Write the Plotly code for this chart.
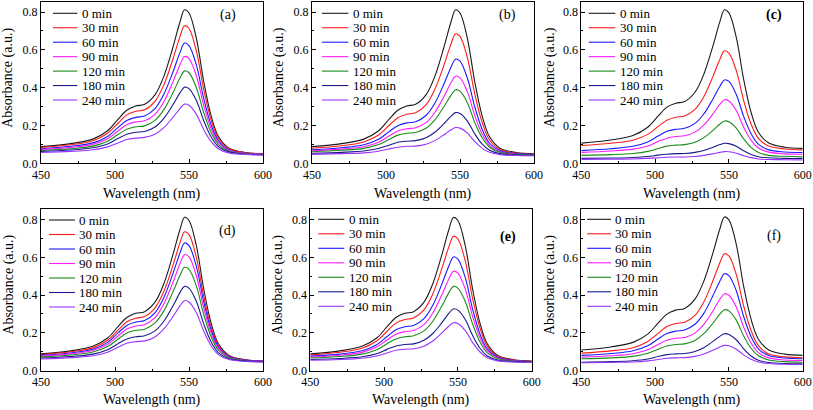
import plotly.graph_objects as go

# ---------------- data ----------------
WAVELENGTH = [450, 470, 485, 495, 502, 508, 514, 520, 527, 533, 539, 544, 547,
              550, 555, 560, 565, 570, 577, 588, 600]
TIMES = ["0 min", "30 min", "60 min", "90 min", "120 min", "180 min", "240 min"]
PANEL_LABELS = ["(a)", "(b)", "(c)", "(d)", "(e)", "(f)"]
X_TITLE = "Wavelength (nm)"
Y_TITLE = "Absorbance (a.u.)"
X_TICKS = [450, 500, 550, 600]
Y_TICKS = [0.0, 0.2, 0.4, 0.6, 0.8]

ABS_A = [
    [0.088, 0.104, 0.128, 0.172, 0.232, 0.281, 0.303, 0.312, 0.362, 0.460, 0.610, 0.750, 0.812, 0.795, 0.660, 0.430, 0.250, 0.140, 0.080, 0.057, 0.050],
    [0.084, 0.098, 0.119, 0.159, 0.212, 0.256, 0.275, 0.283, 0.328, 0.415, 0.548, 0.673, 0.728, 0.713, 0.593, 0.388, 0.228, 0.130, 0.077, 0.056, 0.050],
    [0.077, 0.090, 0.108, 0.142, 0.189, 0.226, 0.243, 0.250, 0.289, 0.365, 0.480, 0.588, 0.636, 0.623, 0.519, 0.341, 0.202, 0.118, 0.071, 0.053, 0.048],
    [0.073, 0.084, 0.100, 0.130, 0.171, 0.204, 0.219, 0.225, 0.259, 0.326, 0.428, 0.523, 0.565, 0.554, 0.462, 0.305, 0.183, 0.108, 0.067, 0.052, 0.047],
    [0.068, 0.077, 0.091, 0.117, 0.152, 0.180, 0.193, 0.198, 0.227, 0.284, 0.371, 0.453, 0.489, 0.479, 0.400, 0.267, 0.162, 0.098, 0.063, 0.050, 0.046],
    [0.063, 0.070, 0.082, 0.102, 0.131, 0.154, 0.164, 0.168, 0.192, 0.238, 0.308, 0.374, 0.403, 0.395, 0.332, 0.224, 0.139, 0.087, 0.059, 0.048, 0.045],
    [0.057, 0.063, 0.072, 0.087, 0.108, 0.126, 0.133, 0.137, 0.154, 0.189, 0.242, 0.291, 0.313, 0.307, 0.259, 0.178, 0.115, 0.076, 0.055, 0.047, 0.044],
]
ABS_B = [
    [0.088, 0.104, 0.128, 0.172, 0.232, 0.281, 0.303, 0.312, 0.362, 0.460, 0.610, 0.750, 0.812, 0.795, 0.660, 0.430, 0.250, 0.140, 0.080, 0.057, 0.050],
    [0.080, 0.093, 0.113, 0.150, 0.200, 0.241, 0.260, 0.267, 0.309, 0.391, 0.516, 0.633, 0.685, 0.671, 0.558, 0.366, 0.215, 0.123, 0.073, 0.054, 0.048],
    [0.071, 0.082, 0.098, 0.127, 0.167, 0.199, 0.214, 0.220, 0.253, 0.318, 0.417, 0.510, 0.551, 0.540, 0.450, 0.298, 0.179, 0.106, 0.066, 0.051, 0.046],
    [0.066, 0.075, 0.088, 0.112, 0.144, 0.171, 0.183, 0.188, 0.215, 0.269, 0.351, 0.427, 0.461, 0.452, 0.378, 0.253, 0.154, 0.094, 0.061, 0.049, 0.045],
    [0.061, 0.069, 0.079, 0.099, 0.126, 0.149, 0.159, 0.163, 0.185, 0.230, 0.298, 0.361, 0.389, 0.382, 0.320, 0.216, 0.135, 0.085, 0.058, 0.047, 0.044],
    [0.053, 0.058, 0.065, 0.078, 0.096, 0.111, 0.117, 0.120, 0.135, 0.164, 0.208, 0.250, 0.268, 0.263, 0.223, 0.155, 0.101, 0.069, 0.051, 0.044, 0.042],
    [0.047, 0.051, 0.055, 0.064, 0.076, 0.085, 0.090, 0.091, 0.101, 0.120, 0.150, 0.177, 0.189, 0.186, 0.160, 0.115, 0.079, 0.058, 0.046, 0.041, 0.040],
]
ABS_C = [
    [0.107, 0.123, 0.147, 0.191, 0.249, 0.297, 0.318, 0.327, 0.376, 0.471, 0.616, 0.752, 0.812, 0.796, 0.666, 0.444, 0.270, 0.164, 0.107, 0.085, 0.079],
    [0.094, 0.106, 0.122, 0.153, 0.194, 0.228, 0.244, 0.250, 0.285, 0.352, 0.456, 0.552, 0.595, 0.583, 0.490, 0.332, 0.208, 0.132, 0.091, 0.076, 0.071],
    [0.067, 0.077, 0.090, 0.113, 0.144, 0.169, 0.180, 0.185, 0.211, 0.261, 0.338, 0.409, 0.441, 0.433, 0.364, 0.248, 0.157, 0.101, 0.071, 0.060, 0.057],
    [0.058, 0.065, 0.075, 0.092, 0.115, 0.133, 0.142, 0.146, 0.165, 0.202, 0.259, 0.313, 0.336, 0.330, 0.279, 0.191, 0.123, 0.081, 0.059, 0.050, 0.048],
    [0.042, 0.046, 0.052, 0.063, 0.078, 0.091, 0.096, 0.099, 0.111, 0.136, 0.173, 0.208, 0.224, 0.220, 0.186, 0.129, 0.084, 0.057, 0.042, 0.037, 0.035],
    [0.026, 0.028, 0.031, 0.036, 0.043, 0.048, 0.051, 0.052, 0.058, 0.068, 0.084, 0.099, 0.106, 0.104, 0.090, 0.066, 0.047, 0.035, 0.029, 0.026, 0.026],
    [0.021, 0.022, 0.023, 0.026, 0.029, 0.032, 0.033, 0.033, 0.036, 0.042, 0.050, 0.058, 0.062, 0.061, 0.053, 0.040, 0.030, 0.023, 0.020, 0.019, 0.018],
]
ABS_D = [
    [0.088, 0.104, 0.128, 0.172, 0.232, 0.281, 0.303, 0.312, 0.362, 0.460, 0.610, 0.750, 0.812, 0.795, 0.660, 0.430, 0.250, 0.140, 0.080, 0.057, 0.050],
    [0.084, 0.099, 0.120, 0.160, 0.214, 0.258, 0.277, 0.286, 0.331, 0.419, 0.553, 0.679, 0.735, 0.720, 0.598, 0.392, 0.230, 0.131, 0.077, 0.056, 0.050],
    [0.080, 0.093, 0.113, 0.149, 0.199, 0.239, 0.257, 0.265, 0.306, 0.386, 0.510, 0.625, 0.676, 0.662, 0.551, 0.362, 0.214, 0.123, 0.074, 0.055, 0.049],
    [0.076, 0.088, 0.106, 0.139, 0.183, 0.220, 0.236, 0.243, 0.280, 0.353, 0.464, 0.568, 0.614, 0.602, 0.501, 0.330, 0.197, 0.115, 0.070, 0.053, 0.048],
    [0.072, 0.082, 0.098, 0.127, 0.166, 0.199, 0.213, 0.219, 0.252, 0.316, 0.414, 0.506, 0.547, 0.536, 0.447, 0.296, 0.178, 0.106, 0.067, 0.052, 0.047],
    [0.066, 0.074, 0.087, 0.110, 0.142, 0.167, 0.179, 0.184, 0.210, 0.261, 0.340, 0.414, 0.446, 0.437, 0.366, 0.246, 0.151, 0.093, 0.062, 0.050, 0.046],
    [0.061, 0.068, 0.078, 0.097, 0.123, 0.144, 0.153, 0.157, 0.178, 0.220, 0.284, 0.344, 0.370, 0.363, 0.306, 0.207, 0.130, 0.083, 0.058, 0.048, 0.045],
]
ABS_E = [
    [0.088, 0.104, 0.128, 0.172, 0.232, 0.281, 0.303, 0.312, 0.362, 0.460, 0.610, 0.750, 0.811, 0.795, 0.660, 0.430, 0.250, 0.140, 0.080, 0.057, 0.050],
    [0.083, 0.097, 0.118, 0.156, 0.208, 0.251, 0.270, 0.278, 0.321, 0.406, 0.537, 0.658, 0.712, 0.697, 0.580, 0.380, 0.224, 0.128, 0.076, 0.056, 0.050],
    [0.076, 0.087, 0.105, 0.137, 0.180, 0.216, 0.232, 0.239, 0.275, 0.346, 0.455, 0.557, 0.602, 0.590, 0.492, 0.324, 0.193, 0.113, 0.070, 0.053, 0.048],
    [0.071, 0.081, 0.096, 0.124, 0.162, 0.192, 0.206, 0.212, 0.243, 0.305, 0.399, 0.487, 0.526, 0.516, 0.431, 0.286, 0.173, 0.104, 0.066, 0.051, 0.047],
    [0.066, 0.074, 0.087, 0.110, 0.142, 0.167, 0.179, 0.184, 0.210, 0.261, 0.340, 0.414, 0.446, 0.437, 0.366, 0.246, 0.151, 0.093, 0.062, 0.050, 0.046],
    [0.058, 0.064, 0.073, 0.089, 0.112, 0.130, 0.138, 0.141, 0.160, 0.196, 0.252, 0.304, 0.327, 0.320, 0.270, 0.185, 0.118, 0.077, 0.055, 0.047, 0.044],
    [0.054, 0.058, 0.065, 0.077, 0.093, 0.107, 0.113, 0.115, 0.129, 0.156, 0.198, 0.236, 0.253, 0.249, 0.211, 0.148, 0.098, 0.068, 0.051, 0.045, 0.043],
]
ABS_F = [
    [0.109, 0.125, 0.149, 0.193, 0.251, 0.299, 0.320, 0.329, 0.378, 0.473, 0.618, 0.754, 0.814, 0.798, 0.668, 0.446, 0.272, 0.166, 0.109, 0.087, 0.080],
    [0.092, 0.104, 0.121, 0.154, 0.197, 0.233, 0.249, 0.256, 0.292, 0.363, 0.472, 0.574, 0.619, 0.607, 0.509, 0.342, 0.212, 0.132, 0.088, 0.072, 0.067],
    [0.080, 0.090, 0.105, 0.131, 0.167, 0.196, 0.209, 0.215, 0.245, 0.303, 0.393, 0.476, 0.513, 0.503, 0.423, 0.286, 0.180, 0.115, 0.079, 0.066, 0.062],
    [0.071, 0.078, 0.089, 0.110, 0.138, 0.160, 0.171, 0.175, 0.198, 0.244, 0.313, 0.379, 0.407, 0.399, 0.337, 0.230, 0.146, 0.095, 0.067, 0.056, 0.053],
    [0.062, 0.067, 0.075, 0.091, 0.113, 0.130, 0.138, 0.141, 0.159, 0.195, 0.249, 0.300, 0.322, 0.316, 0.267, 0.183, 0.118, 0.078, 0.056, 0.047, 0.044],
    [0.043, 0.047, 0.052, 0.061, 0.074, 0.084, 0.088, 0.090, 0.101, 0.121, 0.153, 0.182, 0.195, 0.191, 0.163, 0.115, 0.077, 0.054, 0.042, 0.037, 0.036],
    [0.041, 0.043, 0.045, 0.051, 0.058, 0.065, 0.067, 0.068, 0.075, 0.088, 0.107, 0.125, 0.133, 0.131, 0.113, 0.083, 0.059, 0.045, 0.037, 0.033, 0.032],
]
PANELS = [ABS_A, ABS_B, ABS_C, ABS_D, ABS_E, ABS_F]

# ---------------- styling / layout ----------------
W, H = 813, 410
COLORS = ["#1a1a1a", "#ff1a1a", "#1a1aff", "#ff1aff", "#1a8c1a", "#1a1a8c", "#9933ff"]
FONT = "Liberation Serif"

# plot-area boxes in pixels: (left, right, top, bottom)
BOXES = [
    (41.0, 263.0, 1.5, 163.3), (312.0, 534.0, 1.5, 163.3), (581.3, 802.7, 1.5, 163.3),
    (41.0, 263.0, 209.0, 370.5), (310.3, 531.7, 209.0, 370.5), (581.3, 802.7, 209.0, 370.5),
]
# axis-title centres in pixels: x-title y, y-title x, y-title y
TITLE_POS = [(193.5, 8.3, 77.5), (193.5, 279.0, 77.5), (193.5, 550.0, 77.5),
             (400.0, 8.7, 285.0), (400.0, 278.0, 285.0), (400.0, 550.0, 285.0)]
# legend: line start/end and text x (relative to box left), first row y (px), row step
LEGEND = [
    (12.0, 36.3, 39.0, 13.3, 14.45), (10.0, 36.3, 39.0, 13.3, 14.45), (7.4, 34.0, 36.7, 13.3, 14.45),
    (8.0, 34.0, 36.3, 220.0, 14.5), (8.0, 34.0, 36.7, 219.3, 14.5), (6.0, 29.7, 31.7, 219.3, 14.5),
]
LABEL_POS = [(228.0, 15.0), (507.7, 15.0), (773.7, 15.0), (227.7, 230.7), (507.7, 236.7), (773.7, 235.7)]
LABEL_BOLD = [False, False, True, False, True, False]

fig = go.Figure()
layout = dict(
    width=W, height=H, margin=dict(l=0, r=0, t=0, b=0),
    paper_bgcolor="white", plot_bgcolor="white", showlegend=False,
    font=dict(family=FONT, color="black"),
)
shapes, annotations = [], []

for i, (panel, box) in enumerate(zip(PANELS, BOXES)):
    n = i + 1
    xa, ya = f"xaxis{n}" if n > 1 else "xaxis", f"yaxis{n}" if n > 1 else "yaxis"
    xr, yr = f"x{n}" if n > 1 else "x", f"y{n}" if n > 1 else "y"
    left, right, top, bottom = box
    for vals, col in zip(panel, COLORS):
        fig.add_trace(go.Scatter(
            x=WAVELENGTH, y=vals, mode="lines", xaxis=xr, yaxis=yr,
            line=dict(color=col, width=1.1, shape="spline", smoothing=1.0),
            hoverinfo="skip"))
    layout[xa] = dict(
        domain=[left / W, right / W], anchor=yr, range=[450, 600],
        tickvals=X_TICKS, ticks="inside", ticklen=4, tickwidth=1, tickcolor="black",
        minor=dict(tickvals=[475, 525, 575], ticks="inside", ticklen=2, tickwidth=1, tickcolor="black"),
        showline=True, mirror=True, linecolor="black", linewidth=1,
        showgrid=False, zeroline=False, automargin=False,
        tickfont=dict(family=FONT, size=12, color="black"),
    )
    layout[ya] = dict(
        domain=[1 - bottom / H, 1 - top / H], anchor=xr, range=[0, 0.856],
        tickvals=Y_TICKS, ticktext=[f"{v:.1f}" for v in Y_TICKS],
        ticks="inside", ticklen=4, tickwidth=1, tickcolor="black",
        minor=dict(tickvals=[0.1, 0.3, 0.5, 0.7], ticks="inside", ticklen=2, tickwidth=1, tickcolor="black"),
        showline=True, mirror=True, linecolor="black", linewidth=1,
        showgrid=False, zeroline=False, automargin=False,
        tickfont=dict(family=FONT, size=12, color="black"),
    )
    # axis titles
    xt_y, yt_x, yt_y = TITLE_POS[i]
    annotations.append(dict(text=X_TITLE, xref="paper", yref="paper",
                            x=(left + right) / 2 / W, y=1 - xt_y / H,
                            xanchor="center", yanchor="middle", showarrow=False,
                            font=dict(family=FONT, size=14, color="black")))
    annotations.append(dict(text=Y_TITLE, xref="paper", yref="paper", textangle=-90,
                            x=yt_x / W, y=1 - yt_y / H,
                            xanchor="center", yanchor="middle", showarrow=False,
                            font=dict(family=FONT, size=14, color="black")))
    # compact legend, as in the reference
    lx0, lx1, tx, ty0, step = LEGEND[i]
    for k, (name, col) in enumerate(zip(TIMES, COLORS)):
        yy = ty0 + k * step
        shapes.append(dict(type="line", xref="paper", yref="paper",
                           x0=(left + lx0) / W, x1=(left + lx1) / W,
                           y0=1 - yy / H, y1=1 - yy / H,
                           line=dict(color=col, width=1.1)))
        annotations.append(dict(text=name, xref="paper", yref="paper",
                                x=(left + tx) / W, y=1 - yy / H, xanchor="left", yanchor="middle",
                                showarrow=False, font=dict(family=FONT, size=13, color="black")))
    px, py = LABEL_POS[i]
    lab = f"<b>{PANEL_LABELS[i]}</b>" if LABEL_BOLD[i] else PANEL_LABELS[i]
    annotations.append(dict(text=lab, xref="paper", yref="paper", x=px / W, y=1 - py / H,
                            xanchor="center", yanchor="middle", showarrow=False,
                            font=dict(family=FONT, size=14, color="black")))

layout["shapes"] = shapes
layout["annotations"] = annotations
fig.update_layout(**layout)
fig.write_html("out.html")
